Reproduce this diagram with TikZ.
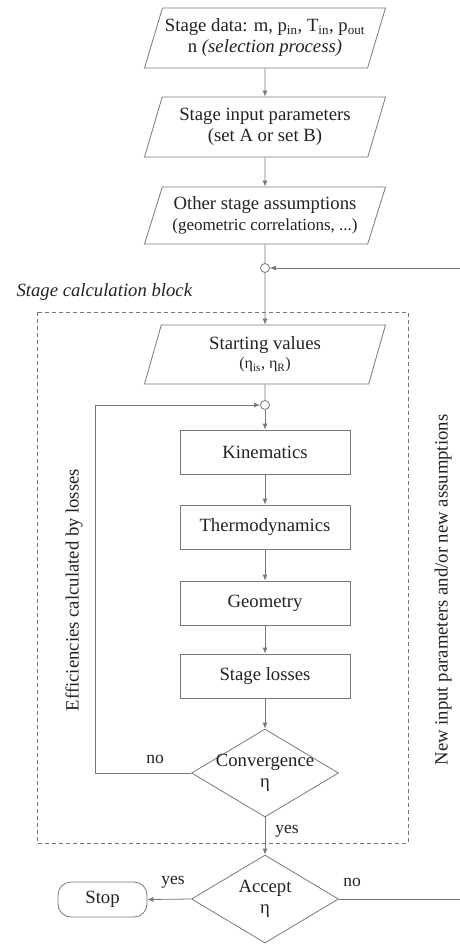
\documentclass[tikz,border=0pt]{standalone}
\usepackage{fontspec}
\setmainfont{Liberation Serif}
\usetikzlibrary{shapes.geometric,arrows.meta}
\definecolor{ln}{HTML}{787878}
\definecolor{tx}{HTML}{222222}
\begin{document}
\begin{tikzpicture}[x=1pt,y=-1pt,
  every node/.style={text=tx, font=\fontsize{18.7}{21}\selectfont, align=center},
  para/.style={trapezium, trapezium left angle=65.8, trapezium right angle=114.2,
    trapezium stretches body, draw=ln, line width=0.8pt, minimum width=241,
    minimum height=60, inner sep=1pt},
  proc/.style={rectangle, draw=ln, line width=0.8pt, minimum width=170, minimum height=44},
  dia/.style={diamond, draw=ln, line width=0.8pt, aspect=1.67, minimum width=147,
    minimum height=88, inner sep=0pt},
  term/.style={rectangle, rounded corners=13pt, draw=ln, line width=0.8pt,
    minimum width=89, minimum height=35},
  junc/.style={circle, draw=ln, fill=white, line width=0.8pt, minimum size=9pt, inner sep=0pt},
  lbl/.style={font=\fontsize{17.5}{20}\selectfont},
  con/.style={draw=ln, line width=0.8pt},
  arr/.style={con, -{Latex[length=6pt,width=5pt]}}
]
\useasboundingbox (0,0) rectangle (459,945);

\node[para] (b1) at (265,38) {Stage data: m, p\textsubscript{in}, T\textsubscript{in}, p\textsubscript{out}\\ n \textit{(selection process)}};
\node[para] (b2) at (265,127) {Stage input parameters\\ (set A or set B)};
\node[para, minimum height=57] (b3) at (265,215.5) {Other stage assumptions\\ {\fontsize{17}{20}\selectfont (geometric correlations, ...)}};
\node[junc] (c1) at (265,268) {};
\node[anchor=base west] (title) at (13,296) {\textit{Stage calculation block}};
\draw[ln, line width=0.8pt, dash pattern=on 4pt off 3pt] (37,312) rectangle (408,843);
\node[para, minimum height=59] (sv) at (265,354.5) {Starting values\\[-2pt] {\fontsize{16}{18}\selectfont (η\textsubscript{is}, η\textsubscript{R})}};
\node[junc] (c2) at (265,405) {};
\node[proc] (kin) at (265,452) {Kinematics};
\node[proc] (thd) at (265,527) {Thermodynamics};
\node[proc] (geo) at (265,603) {Geometry};
\node[proc] (los) at (265,676) {Stage losses};
\node[dia] (conv) at (265,773) {\makebox[0pt]{Convergence}\\ \makebox[0pt]{η}};
\node[dia] (acc) at (265,899) {\makebox[0pt]{Accept}\\ \makebox[0pt]{η}};
\node[term] (stop) at (102.5,899.5) {Stop};

\node[rotate=90] (effl) at (74,590) {Efficiencies calculated by losses};
\node[rotate=90] (newl) at (443,590) {New input parameters and/or new assumptions};

\node[lbl] (no1) at (155,759) {no};
\node[lbl] (yes1) at (287,831) {yes};
\node[lbl] (yes2) at (173,882) {yes};
\node[lbl] (no2) at (352,882) {no};

\coordinate (lft) at (95,405);
\coordinate (rgt) at (470,268);

\draw[arr] (b1.south) -- (b2.north);
\draw[arr] (b2.south) -- (b3.north);
\draw[con] (b3.south) -- (c1.north);
\draw[arr] (c1.south) -- (sv.north);
\draw[con] (sv.south) -- (c2.north);
\draw[arr] (c2.south) -- (kin.north);
\draw[arr] (kin.south) -- (thd.north);
\draw[arr] (thd.south) -- (geo.north);
\draw[arr] (geo.south) -- (los.north);
\draw[arr] (los.south) -- (conv.north);
\draw[arr] (conv.south) -- (acc.north);
\draw[arr] (conv.west) -| (lft) -- (c2.west);
\draw[arr] (acc.west) -- (stop.east);
\draw[arr] (acc.east) -| (rgt) -- (c1.east);
\end{tikzpicture}
\end{document}
